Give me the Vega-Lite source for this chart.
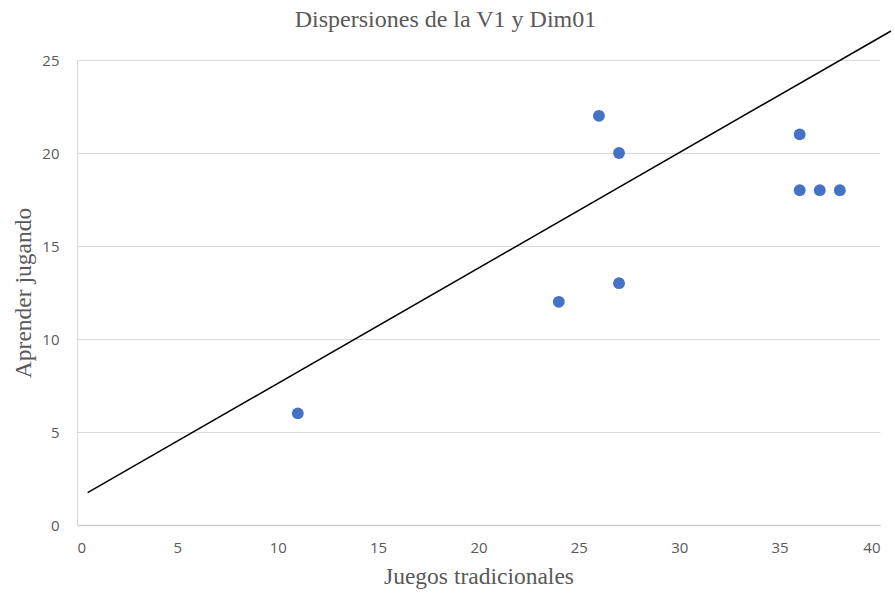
{
  "$schema": "https://vega.github.io/schema/vega-lite/v6.json",
  "width": 803,
  "height": 465,
  "autosize": {"type": "none"},
  "padding": {"left": 77, "top": 60, "right": 15, "bottom": 71},
  "background": "white",
  "config": {"view": {"stroke": null}},
  "title": {
    "text": "Dispersiones de la V1 y Dim01",
    "font": "Liberation Serif",
    "fontSize": 24,
    "fontWeight": "normal",
    "color": "#595959",
    "offset": 1,
    "dx": -33,
    "dy": 5,
    "anchor": "middle"
  },
  "datasets": {
    "pts": [
      {"juegos": 11, "aprender": 6},
      {"juegos": 24, "aprender": 12},
      {"juegos": 26, "aprender": 22},
      {"juegos": 27, "aprender": 20},
      {"juegos": 27, "aprender": 13},
      {"juegos": 36, "aprender": 21},
      {"juegos": 36, "aprender": 18},
      {"juegos": 37, "aprender": 18},
      {"juegos": 38, "aprender": 18}
    ],
    "trend": [
      {"juegos": 0.53, "aprender": 1.74},
      {"juegos": 40.55, "aprender": 26.56}
    ]
  },
  "layer": [
    {
      "data": {"name": "pts"},
      "mark": {"type": "circle", "size": 140, "color": "#4472C4", "opacity": 1},
      "encoding": {
        "x": {
          "field": "juegos", "type": "quantitative",
          "scale": {"domain": [0, 40], "nice": false},
          "axis": {
            "title": "Juegos tradicionales",
            "titleFont": "Liberation Serif", "titleFontSize": 23.5, "titleFontWeight": "normal",
            "titleColor": "#595959", "titlePadding": 9,
            "values": [0, 5, 10, 15, 20, 25, 30, 35, 40],
            "labelFont": "Liberation Sans Narrow, Open Sans, sans-serif", "labelFontSize": 15, "labelColor": "#595959",
            "labelPadding": 15, "ticks": false, "grid": false,
            "domainColor": "#d0d0d0", "domainWidth": 1.5
          }
        },
        "y": {
          "field": "aprender", "type": "quantitative",
          "scale": {"domain": [0, 25], "nice": false},
          "axis": {
            "title": "Aprender jugando",
            "titleFont": "Liberation Serif", "titleFontSize": 23.5, "titleFontWeight": "normal",
            "titleColor": "#595959", "titlePadding": 6,
            "values": [0, 5, 10, 15, 20, 25],
            "labelFont": "Liberation Sans Narrow, Open Sans, sans-serif", "labelFontSize": 15, "labelColor": "#595959",
            "labelPadding": 18, "ticks": false,
            "grid": true, "gridColor": "#d9d9d9", "gridWidth": 1,
            "domainColor": "#d9d9d9", "domainWidth": 1
          }
        }
      }
    },
    {
      "data": {"name": "trend"},
      "mark": {"type": "line", "color": "#000000", "strokeWidth": 1.5, "clip": false},
      "encoding": {
        "x": {"field": "juegos", "type": "quantitative"},
        "y": {"field": "aprender", "type": "quantitative"}
      }
    }
  ]
}
